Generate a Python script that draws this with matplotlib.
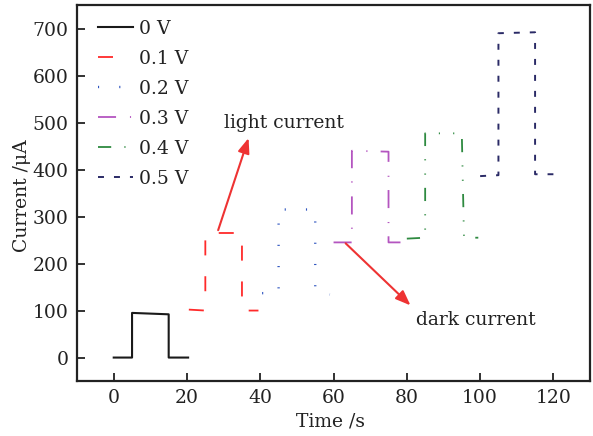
import matplotlib
matplotlib.use("Agg")
import matplotlib.pyplot as plt

plt.rcParams["font.family"] = ["DejaVu Serif"]
plt.rcParams["mathtext.fontset"] = "dejavuserif"
plt.rcParams["lines.scale_dashes"] = False

# Photocurrent response under on/off illumination at several bias voltages
labels = ["0 V", "0.1 V", "0.2 V", "0.3 V", "0.4 V", "0.5 V"]
times = [
    [0, 5, 5, 15, 15, 20.3],
    [20.5, 25, 25, 35, 35, 39.5],
    [40.5, 45, 45, 55, 55, 59],
    [60, 65, 65, 75, 75, 79.5],
    [80, 85, 85, 95, 95.6, 99.5],
    [100, 105, 105, 115, 115, 120],
]
currents = [
    [0, 0, 95, 92, 0, 0],
    [102, 100, 265, 265, 100, 100],
    [137, 137, 315, 315, 140, 134],
    [245, 245, 440, 438, 245, 245],
    [253, 255, 477, 477, 255, 255],
    [386, 388, 690, 692, 390, 390],
]
colors = ["#1a1a1a", "#ff2a2a", "#2f55c0", "#b455c0", "#2e8a40", "#2a2a66"]
styles = [
    "-",
    (0, (10.8, 15.0)),
    (0, (0.8, 14.5)),
    (0, (13.0, 10.0, 0.8, 9.5)),
    (0, (9.5, 9.5, 0.8, 9.5, 0.8, 9.5)),
    (0, (4.3, 7.2)),
]
widths = [1.5, 1.3, 1.7, 1.3, 1.3, 1.4]

FS = 13.5

fig = plt.figure(figsize=(5.93, 4.36), dpi=100)
ax = fig.add_axes([0.130, 0.126, 0.865, 0.8625])

for t, c, lab, col, ls, lw in zip(times, currents, labels, colors, styles, widths):
    ax.plot(t, c, color=col, linestyle=ls, linewidth=lw, label=lab)

ax.set_xlim(-10, 130)
ax.set_ylim(-50, 750)
ax.set_xticks([0, 20, 40, 60, 80, 100, 120])
ax.set_yticks([0, 100, 200, 300, 400, 500, 600, 700])
ax.tick_params(direction="in", length=6, width=1.3, labelsize=FS,
               colors="#222222", top=False, right=False, pad=6)
for s in ax.spines.values():
    s.set_linewidth(1.6)
    s.set_color("#222222")

ax.set_xlabel("Time /s", fontsize=FS, color="#222222")
ax.set_ylabel("Current /μA", fontsize=FS, color="#222222")
ax.xaxis.set_label_coords(0.495, -0.083)
ax.yaxis.set_label_coords(-0.089, 0.493)

leg = ax.legend(loc="upper left", frameon=False, fontsize=FS,
                handlelength=1.87, handletextpad=0.35, labelspacing=0.64,
                borderaxespad=0.0, borderpad=0.0,
                bbox_to_anchor=(0.04, 0.96))
for txt in leg.get_texts():
    txt.set_color("#222222")

arrow = dict(arrowstyle="-|>,head_length=0.9,head_width=0.35",
             color="#ee3333", lw=1.5, shrinkA=0, shrinkB=0)
ax.annotate("", xy=(36.8, 467), xytext=(28.5, 271), arrowprops=arrow)
ax.text(30.2, 498, "light current", fontsize=FS, color="#222222",
        va="center", ha="left")
ax.annotate("", xy=(81.0, 111), xytext=(63.3, 243), arrowprops=arrow)
ax.text(82.5, 80, "dark current", fontsize=FS, color="#222222",
        va="center", ha="left")

fig.savefig("out.png", dpi=100)
